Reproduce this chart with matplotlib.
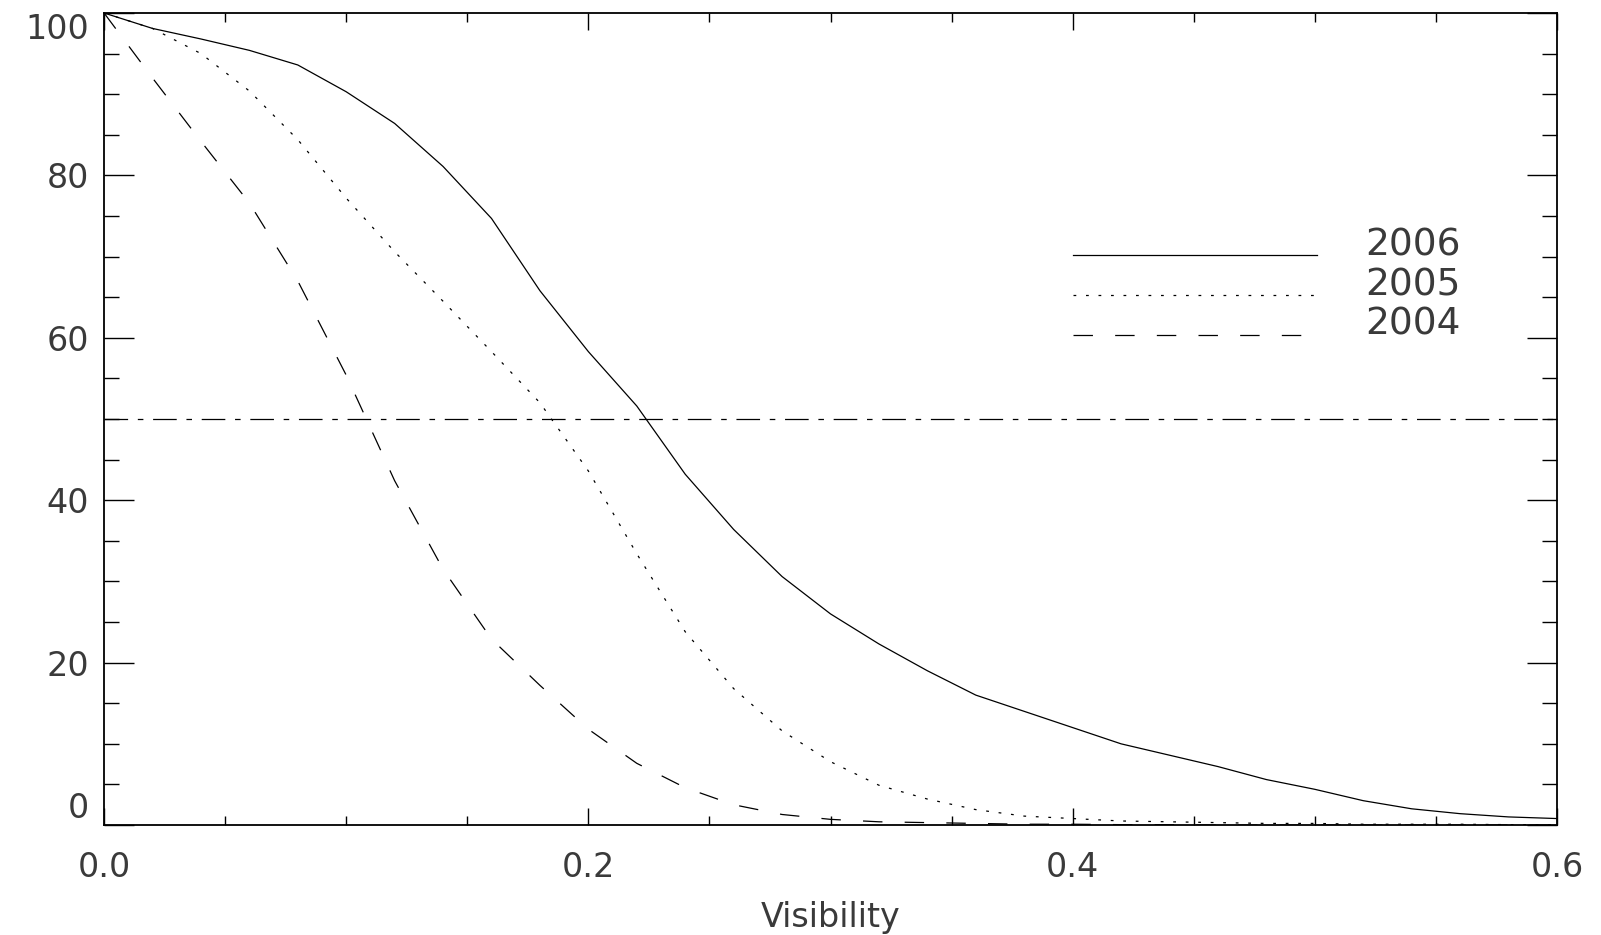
import numpy as np
import matplotlib
matplotlib.use("Agg")
import matplotlib.pyplot as plt
from matplotlib.ticker import MultipleLocator
from matplotlib.legend_handler import HandlerLine2D

# visibility grid and cumulative percentages
visibility = [0.00, 0.02, 0.04, 0.06, 0.08, 0.10, 0.12, 0.14, 0.16, 0.18,
              0.20, 0.22, 0.24, 0.26, 0.28, 0.30, 0.32, 0.34, 0.36, 0.38,
              0.40, 0.42, 0.44, 0.46, 0.48, 0.50, 0.52, 0.54, 0.56, 0.58, 0.60]

pct_2006 = [100.0, 98.1, 96.8, 95.4, 93.6, 90.3, 86.4, 81.1, 74.7, 65.8,
            58.3, 51.6, 43.2, 36.4, 30.6, 26.0, 22.3, 19.0, 16.0, 14.0,
            12.0, 10.0, 8.6, 7.2, 5.6, 4.4, 3.0, 2.0, 1.4, 1.0, 0.8]

pct_2005 = [100.0, 98.1, 95.0, 90.4, 84.4, 77.2, 70.6, 64.5, 58.3, 52.0,
            43.6, 33.4, 23.8, 16.8, 11.6, 7.8, 4.9, 3.2, 1.9, 1.1,
            0.8, 0.5, 0.4, 0.3, 0.2, 0.2, 0.1, 0.1, 0.1, 0.05, 0.05]

pct_2004 = [100.0, 92.0, 84.2, 76.6, 67.0, 55.4, 42.4, 31.5, 22.9, 17.2,
            11.8, 7.6, 4.6, 2.5, 1.3, 0.7, 0.4, 0.3, 0.2, 0.1,
            0.1, 0.05, 0.05, 0.0, 0.0, 0.0, 0.0, 0.0, 0.0, 0.0, 0.0]

years = ["2006", "2005", "2004"]
half_level = 50
x_ticks = [0.0, 0.2, 0.4, 0.6]
y_ticks = [0, 20, 40, 60, 80, 100]

plt.rcParams["font.family"] = ["DejaVu Sans"]
plt.rcParams["lines.scale_dashes"] = False

TXT = "#3a3a3a"


class BaselineLine(HandlerLine2D):
    # IDL style legend: sample line sits on the text baseline
    def create_artists(self, legend, orig_handle, xdescent, ydescent,
                       width, height, fontsize, trans):
        arts = super().create_artists(legend, orig_handle, xdescent, ydescent,
                                      width, height, fontsize, trans)
        for a in arts:
            a.set_ydata(np.zeros_like(a.get_xdata()))
        return arts


fig = plt.figure(figsize=(16.01, 9.35), dpi=100)
ax = fig.add_axes([0.065, 0.1176, 0.9075, 0.8685])

ax.plot(visibility, pct_2006, color="black", lw=0.9, ls="-", label=years[0])
ax.plot(visibility, pct_2005, color="black", lw=0.9, dashes=(2, 7), label=years[1])
ax.plot(visibility, pct_2004, color="black", lw=0.9, dashes=(14, 16), label=years[2])
ax.axhline(half_level, color="black", lw=0.9, dashes=(17, 7, 4, 7))

ax.set_xlim(0, 0.6)
ax.set_ylim(0, 100)

ax.set_xticks(x_ticks, [f"{v:.1f}" for v in x_ticks])
ax.set_yticks(y_ticks, [str(v) for v in y_ticks])
ax.xaxis.set_minor_locator(MultipleLocator(0.05))
ax.yaxis.set_minor_locator(MultipleLocator(5))

ax.tick_params(axis="both", which="both", direction="in", top=True, right=True,
               colors="black", labelcolor=TXT, width=1.0)
ax.tick_params(axis="y", which="major", length=21.5, pad=11, labelsize=24)
ax.tick_params(axis="y", which="minor", length=11)
ax.tick_params(axis="x", which="major", length=12.5, pad=19, labelsize=24)
ax.tick_params(axis="x", which="minor", length=6.5)

for sp in ax.spines.values():
    sp.set_linewidth(1.3)

ax.set_xlabel("Visibility", fontsize=24, color=TXT, labelpad=12)

# end labels of the y axis are pulled inside the frame
yt = ax.yaxis.get_major_ticks()
yt[0].label1.set_va("bottom")
yt[-1].label1.set_va("top")

ax.legend(loc="upper left", bbox_to_anchor=(0.667, 0.736), frameon=False,
          fontsize=27, handlelength=6.5, handletextpad=1.28, labelspacing=0.1,
          borderpad=0, borderaxespad=0, labelcolor=TXT,
          handler_map={matplotlib.lines.Line2D: BaselineLine()})

fig.savefig("out.png", dpi=100)
